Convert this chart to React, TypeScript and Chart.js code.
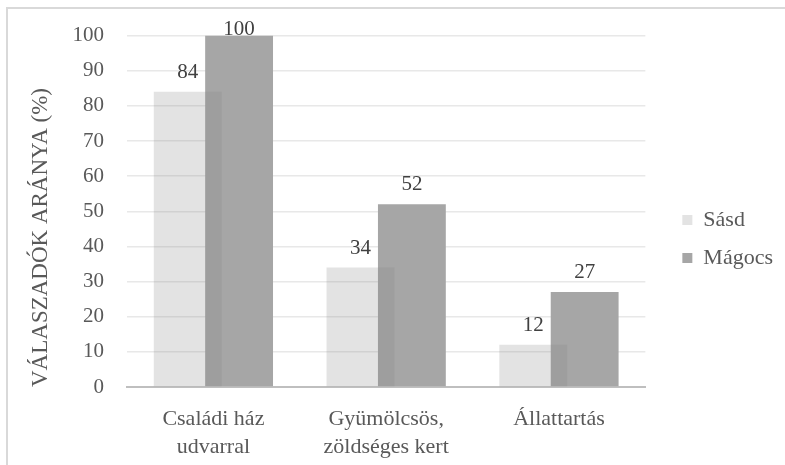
import React, { useEffect, useRef } from 'react';
import { Chart, registerables } from 'chart.js';

Chart.register(...registerables);

const categories: string[][] = [['Családi ház', 'udvarral'], ['Gyümölcsös,', 'zöldséges kert'], ['Állattartás']];
const seriesNames = ['Sásd', 'Mágocs'];
const sasdValues = [84, 34, 12];
const magocsValues = [100, 52, 27];
const yMin = 0;
const yMax = 100;
const yStep = 10;
const yAxisTitle = 'VÁLASZADÓK ARÁNYA (%)';

const FONT = "'Liberation Serif', 'Times New Roman', serif";

const valueLabels = {
  id: 'valueLabels',
  afterDatasetsDraw(chart: any) {
    const ctx = chart.ctx;
    ctx.save();
    ctx.font = `21px ${FONT}`;
    ctx.fillStyle = '#404040';
    ctx.textAlign = 'center';
    ctx.textBaseline = 'alphabetic';
    chart.data.datasets.forEach((ds: any, i: number) => {
      const meta = chart.getDatasetMeta(i);
      meta.data.forEach((bar: any, j: number) => {
        let y = bar.y - 14;
        const minY = chart.chartArea.top - 1;
        if (y < minY) y = minY;
        ctx.fillText(String(ds.data[j]), bar.x, y);
      });
    });
    ctx.restore();
  },
};

export default function App() {
  const ref = useRef<HTMLCanvasElement>(null);
  useEffect(() => {
    if (!ref.current) return;
    const chart = new Chart(ref.current, {
      type: 'bar',
      data: {
        labels: categories,
        datasets: [
          {
            label: seriesNames[0],
            data: sasdValues,
            backgroundColor: 'rgba(130,130,130,0.225)',
            borderWidth: 0,
            categoryPercentage: 0.595,
            barPercentage: 1.32,
          },
          {
            label: seriesNames[1],
            data: magocsValues,
            backgroundColor: '#a6a6a6',
            borderWidth: 0,
            categoryPercentage: 0.595,
            barPercentage: 1.32,
          },
        ],
      },
      options: {
        responsive: false,
        animation: false,
        layout: { padding: { top: 34, right: 2, bottom: 0, left: 0 } },
        plugins: {
          tooltip: { enabled: false },
          legend: {
            position: 'right',
            align: 'start',
            title: {
              display: true,
              text: ' ',
              font: { size: 10, lineHeight: 1.2 },
              padding: { top: 147, bottom: 0 },
            },
            labels: {
              boxWidth: 10,
              boxHeight: 10,
              padding: 16,
              color: '#595959',
              font: { family: FONT, size: 22 },
            },
          },
        },
        scales: {
          x: {
            grid: { display: false, drawTicks: false },
            border: { display: true, color: '#bfbfbf', width: 2 },
            ticks: {
              color: '#595959',
              padding: 18,
              maxRotation: 0,
              autoSkip: false,
              font: { family: FONT, size: 22, lineHeight: 1.27 },
            },
            afterFit: (s: any) => { s.height = 78; },
          },
          y: {
            min: yMin,
            max: yMax,
            ticks: {
              stepSize: yStep,
              color: '#595959',
              padding: 23,
              font: { family: FONT, size: 21 },
            },
            grid: { color: '#e8e8e8', lineWidth: 1.5, drawTicks: false },
            border: { display: false },
            title: {
              display: true,
              text: yAxisTitle,
              align: 'start',
              color: '#595959',
              padding: { top: 27, bottom: 0 },
              font: { family: FONT, size: 23 },
            },
            afterFit: (s: any) => { s.width = 127; },
          },
          yPad: {
            position: 'right',
            display: true,
            grid: { display: false, drawTicks: false },
            border: { display: false },
            ticks: { display: false },
            afterFit: (s: any) => { s.width = 21; },
          },
        },
      },
      plugins: [valueLabels],
    } as any);
    return () => chart.destroy();
  }, []);

  return (
    <div style={{ position: 'fixed', left: 0, top: 0, width: 785, height: 465, overflow: 'hidden', background: '#fff' }}>
      <canvas ref={ref} width={785} height={465} style={{ position: 'absolute', left: 0, top: 0 }} />
      <div
        style={{
          position: 'absolute',
          left: 6,
          top: 7,
          width: 800,
          height: 480,
          borderLeft: '2px solid #d9d9d9',
          borderTop: '2px solid #d9d9d9',
          pointerEvents: 'none',
        }}
      />
    </div>
  );
}
